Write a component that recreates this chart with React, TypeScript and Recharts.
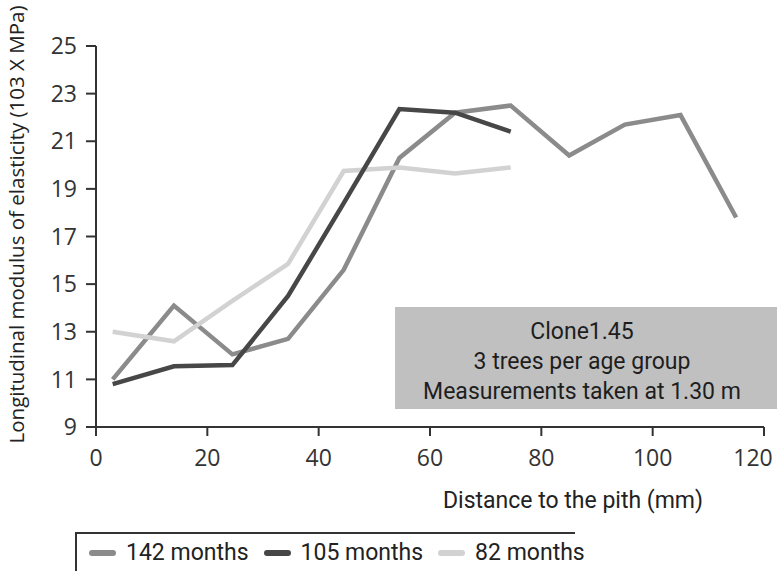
import { LineChart, Line, XAxis, YAxis, Legend, Label } from 'recharts';

// distance to the pith (mm) at which each ring group was sampled
const distances = [3, 14, 24.5, 34.5, 44.5, 54.5, 64.5, 74.5, 85, 95, 105, 115];
// longitudinal MOE (10^3 MPa) per age group
const moe142 = [11.0, 14.1, 12.05, 12.7, 15.6, 20.3, 22.2, 22.5, 20.4, 21.7, 22.1, 17.8];
const moe105 = [10.8, 11.55, 11.6, 14.5, 18.4, 22.35, 22.2, 21.4];
const moe82 = [13.0, 12.6, 14.3, 15.85, 19.75, 19.9, 19.65, 19.9];

const xTicks = [0, 20, 40, 60, 80, 100, 120];
const yTicks = [9, 11, 13, 15, 17, 19, 21, 23, 25];

const noteLines = ['Clone1.45', '3 trees per age group', 'Measurements taken at 1.30 m'];

const series = [
  { key: 'm142', name: '142 months', color: '#8b8b8b' },
  { key: 'm105', name: '105 months', color: '#474747' },
  { key: 'm82', name: '82 months', color: '#d2d2d2' },
];

const data = distances.map((d, i) => ({
  d,
  m142: moe142[i],
  m105: moe105[i],
  m82: moe82[i],
}));

const tickFont = '"Open Sans", "Noto Sans", sans-serif';
const dinFont = 'Roboto, "Noto Sans", sans-serif';

const XTick = ({ x, y, payload }: any) => (
  <text
    x={x + (payload.value === 120 ? -11 : 0)}
    y={y}
    dy={28}
    textAnchor="middle"
    fill="#333"
    fontSize={23}
    fontFamily={tickFont}
  >
    {payload.value}
  </text>
);

const renderLegend = () => (
  <div
    style={{
      boxSizing: 'border-box',
      height: 39,
      width: 500,
      borderTop: '2px solid #333',
      borderLeft: '2px solid #333',
      display: 'flex',
      alignItems: 'center',
      paddingLeft: 12,
      fontFamily: dinFont,
      fontSize: 23,
      color: '#222',
      whiteSpace: 'nowrap',
    }}
  >
    {series.map((s) => (
      <span key={s.key} style={{ display: 'flex', alignItems: 'center', marginRight: 15 }}>
        <span
          style={{
            display: 'inline-block',
            width: 27,
            height: 6,
            borderRadius: 3,
            background: s.color,
            marginRight: 10,
          }}
        />
        <span>{s.name}</span>
      </span>
    ))}
  </div>
);

export default function App() {
  return (
    <div style={{ position: 'absolute', left: 0, top: 0, width: 777, height: 571, background: '#fff' }}>
      <LineChart
        width={777}
        height={571}
        data={data}
        margin={{ top: 46, right: 13, bottom: 20, left: 0 }}
      >
        <XAxis
          dataKey="d"
          type="number"
          domain={[0, 120]}
          ticks={xTicks}
          height={85}
          tickSize={9}
          tickMargin={2}
          tick={<XTick />}
          stroke="#333"
          strokeWidth={2}
        >
          <Label
            value="Distance to the pith (mm)"
            position="insideBottom"
            offset={4}
            dx={143}
            fill="#222"
            fontSize={23}
            fontFamily={dinFont}
          />
        </XAxis>
        <YAxis
          type="number"
          domain={[9, 25]}
          ticks={yTicks}
          width={96}
          tickSize={10}
          tickMargin={9}
          stroke="#333"
          strokeWidth={2}
          tick={{ fill: '#333', fontSize: 23, fontFamily: tickFont }}
        >
          <Label
            content={({ viewBox }: any) => {
              const cx = viewBox.x + 16;
              const cy = viewBox.y + viewBox.height / 2 - 12;
              return (
                <text
                  x={cx}
                  y={cy}
                  transform={`rotate(-90, ${cx}, ${cy})`}
                  textAnchor="middle"
                  dominantBaseline="central"
                  fill="#222"
                  fontSize={20.5}
                  fontFamily={tickFont}
                >
                  Longitudinal modulus of elasticity (103 X MPa)
                </text>
              );
            }}
          />
        </YAxis>
        <Line dataKey="m142" name="142 months" stroke="#8b8b8b" strokeWidth={4.5} dot={false} isAnimationActive={false} />
        <Line dataKey="m82" name="82 months" stroke="#d2d2d2" strokeWidth={4.5} dot={false} isAnimationActive={false} />
        <Line dataKey="m105" name="105 months" stroke="#474747" strokeWidth={4.5} dot={false} isAnimationActive={false} />
        <Legend
          verticalAlign="bottom"
          content={renderLegend}
          wrapperStyle={{ left: 75, top: 532, bottom: 'auto', width: 520 }}
        />
      </LineChart>
      <div
        style={{
          position: 'absolute',
          left: 395,
          top: 307,
          width: 382,
          height: 102,
          boxSizing: 'border-box',
          paddingTop: 10,
          paddingRight: 8,
          background: '#c0c0c0',
          textAlign: 'center',
          fontFamily: dinFont,
          fontSize: 23,
          lineHeight: '30px',
          color: '#1e1e1e',
        }}
      >
        {noteLines.map((t) => (
          <div key={t}>{t}</div>
        ))}
      </div>
    </div>
  );
}
